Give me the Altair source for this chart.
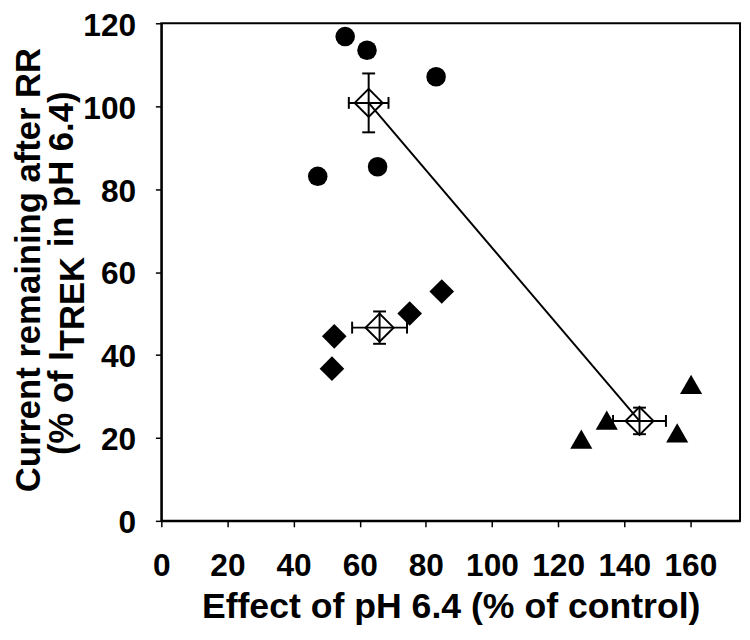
import altair as alt
import pandas as pd

# ---- data ----
circle_x = [55.6, 62.2, 83.1, 47.3, 65.4]
circle_y = [116.8, 113.5, 107.1, 83.1, 85.4]

diamond_x = [52.3, 51.6, 75.1, 84.8]
diamond_y = [44.5, 36.7, 50.0, 55.3]

triangle_x = [160.2, 134.7, 127.0, 156.0]
triangle_y = [32.9, 24.3, 19.7, 21.2]

mean_x = [62.7, 66.0, 144.6]
mean_y = [100.8, 46.6, 24.1]
mean_xerr = [6.0, 8.3, 8.0]
mean_yerr = [7.1, 3.9, 3.2]

line_x = [62.7, 144.6]
line_y = [100.8, 24.1]

x_ticks = [0, 20, 40, 60, 80, 100, 120, 140, 160]
y_ticks = [0, 20, 40, 60, 80, 100, 120]

x_title = "Effect of pH 6.4 (% of control)"
y_title_1 = "Current remaining after RR"
y_title_2a = "(% of I"
y_title_2b = "TREK"
y_title_2c = "in pH 6.4)"

# ---- layout ----
W, H = 585, 503
PAD_LEFT = 155
FONT = "Liberation Sans"
TFS = 35  # y-title font size

xs = alt.Scale(domain=[0, 175], nice=False, zero=False)
ys = alt.Scale(domain=[0, 120], nice=False, zero=False)

x_axis = alt.Axis(values=x_ticks, title=x_title, grid=False,
                  labelFont=FONT, labelFontSize=32, labelFontWeight="bold", labelColor="black",
                  titleFont=FONT, titleFontSize=36, titleFontWeight="bold", titleColor="black",
                  tickSize=6, tickWidth=1.5, tickColor="black",
                  domainColor="black", domainWidth=2,
                  labelPadding=24, titlePadding=9, labelFlush=False, labelOverlap=False)
y_axis = alt.Axis(values=y_ticks, title=None, grid=False,
                  labelFont=FONT, labelFontSize=32, labelFontWeight="bold", labelColor="black",
                  tickSize=6, tickWidth=1.5, tickColor="black",
                  domainColor="black", domainWidth=2,
                  labelPadding=20, labelOffset=2, labelFlush=False, labelOverlap=False)

mean_df = pd.DataFrame({
    "x": mean_x, "y": mean_y,
    "xlo": [a - b for a, b in zip(mean_x, mean_xerr)],
    "xhi": [a + b for a, b in zip(mean_x, mean_xerr)],
    "ylo": [a - b for a, b in zip(mean_y, mean_yerr)],
    "yhi": [a + b for a, b in zip(mean_y, mean_yerr)],
})

X = lambda f: alt.X(f, type="quantitative", scale=xs, axis=x_axis)
Y = lambda f: alt.Y(f, type="quantitative", scale=ys, axis=y_axis)

SW = 2

line = alt.Chart(pd.DataFrame({"x": line_x, "y": line_y})).mark_line(
    color="black", strokeWidth=SW).encode(x=X("x"), y=Y("y"))

hbar = alt.Chart(mean_df).mark_rule(color="black", strokeWidth=SW).encode(
    x=X("xlo"), x2="xhi", y=Y("y"))
vbar = alt.Chart(mean_df).mark_rule(color="black", strokeWidth=SW).encode(
    x=X("x"), y=Y("ylo"), y2="yhi")

cap_l = alt.Chart(mean_df).mark_tick(orient="vertical", color="black", size=12,
                                      thickness=SW, opacity=1).encode(x=X("xlo"), y=Y("y"))
cap_r = alt.Chart(mean_df).mark_tick(orient="vertical", color="black", size=12,
                                      thickness=SW, opacity=1).encode(x=X("xhi"), y=Y("y"))
cap_b = alt.Chart(mean_df).mark_tick(orient="horizontal", color="black", size=13,
                                      thickness=SW, opacity=1).encode(x=X("x"), y=Y("ylo"))
cap_t = alt.Chart(mean_df).mark_tick(orient="horizontal", color="black", size=13,
                                      thickness=SW, opacity=1).encode(x=X("x"), y=Y("yhi"))

open_d = alt.Chart(mean_df).mark_point(shape="diamond", filled=False, color="black",
                                        strokeWidth=SW, size=800, opacity=1).encode(
    x=X("x"), y=Y("y"))

circles = alt.Chart(pd.DataFrame({"x": circle_x, "y": circle_y})).mark_point(
    shape="circle", filled=True, color="black", size=390, opacity=1).encode(x=X("x"), y=Y("y"))
diamonds = alt.Chart(pd.DataFrame({"x": diamond_x, "y": diamond_y})).mark_point(
    shape="diamond", filled=True, color="black", size=620, opacity=1).encode(x=X("x"), y=Y("y"))
triangles = alt.Chart(pd.DataFrame({"x": triangle_x, "y": triangle_y})).mark_point(
    shape="triangle-up", filled=True, color="black", size=500, opacity=1).encode(x=X("x"), y=Y("y"))

# ---- y-axis title (two lines, with subscript TREK) ----
def label(txt, xpos, ypos, align):
    return alt.Chart(pd.DataFrame({"t": [txt]})).mark_text(
        font=FONT, fontSize=TFS, fontWeight="bold", color="black", angle=270,
        baseline="alphabetic", align=align).encode(
        text="t:N", x=alt.value(xpos), y=alt.value(ypos))

yc = H / 2
split = yc + 80            # boundary between "I" and "TREK"
trek_len = 2.722 * TFS     # width of "TREK" in Arial/Liberation bold
space = 0.278 * TFS        # width of a space
base1 = 40 - 8 - PAD_LEFT  # page x of baseline -> plot coords
base2 = 74 - 8 - PAD_LEFT
base_sub = 85 - 8 - PAD_LEFT
t1 = label(y_title_1, base1, yc - 2, "center")
t2a = label(y_title_2a, base2, split, "right")
t2b = label(y_title_2b, base_sub, split, "left")
t2c = label(y_title_2c, base2, split - trek_len - space, "left")

chart = alt.layer(line, hbar, vbar, cap_l, cap_r, cap_b, cap_t, open_d,
                  circles, diamonds, triangles, t1, t2a, t2b, t2c).properties(
    width=W, height=H,
    autosize=alt.AutoSizeParams(type="none"),
    padding={"left": PAD_LEFT, "top": 12, "right": 2, "bottom": 117},
    background="white",
).configure_view(stroke="black", strokeWidth=2)

chart.save("out.html", embed_options={"renderer": "svg", "actions": False})
